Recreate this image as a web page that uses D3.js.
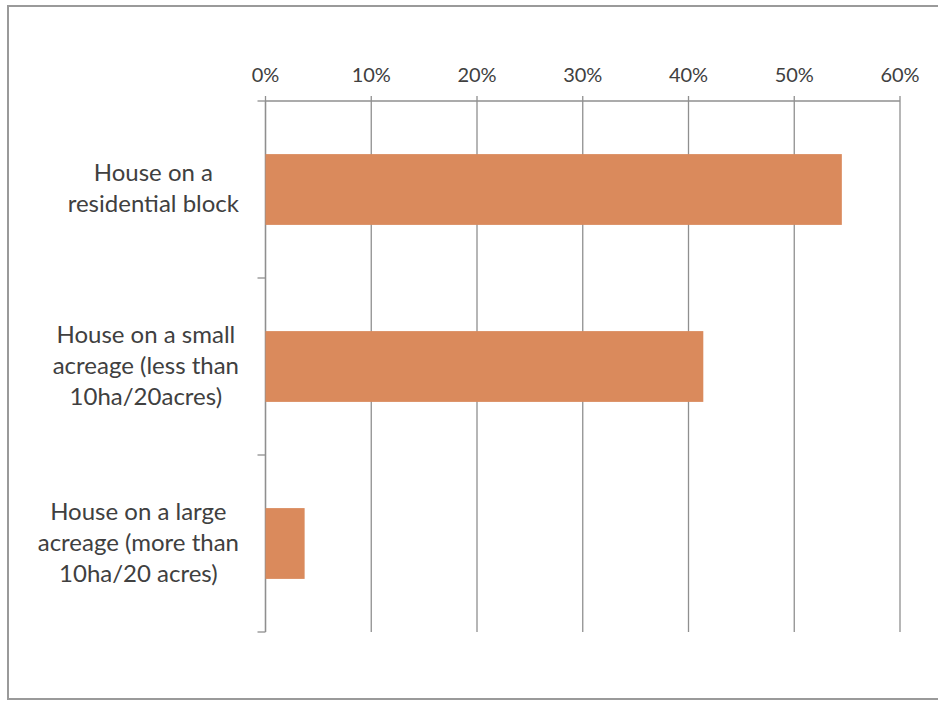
<!DOCTYPE html>
<html><head><meta charset="utf-8">
<script src="https://cdn.jsdelivr.net/npm/d3@7"></script>
<style>
html,body{margin:0;padding:0;background:#fff;}
svg{display:block;}
</style></head>
<body>
<script>
const categories = [
  ["House on a", "residential block"],
  ["House on a small", "acreage (less than", "10ha/20acres)"],
  ["House on a large", "acreage (more than", "10ha/20 acres)"]
];
const values = [0.545, 0.414, 0.037];
const tickValues = [0, 0.1, 0.2, 0.3, 0.4, 0.5, 0.6];

(function () {
const W = 938, H = 701;
const svg = d3.select("body").append("svg").attr("width", W).attr("height", H);

// frame
svg.append("rect").attr("x", 8).attr("y", 6).attr("width", 940).attr("height", 693)
  .attr("fill", "none").attr("stroke", "#9a9a9a").attr("stroke-width", 2);

const pLeft = 265.5, pRight = 900, pTop = 101, pBottom = 632;
const x = d3.scaleLinear().domain([0, 0.6]).range([pLeft, pRight]);
const y = d3.scaleBand().domain(d3.range(categories.length)).range([pTop, pBottom])
  .paddingInner(0.6).paddingOuter(0.3);

const gridColor = "#8f8f8f";
// gridlines
svg.append("g").selectAll("line").data(tickValues).join("line")
  .attr("x1", d => x(d)).attr("x2", d => x(d))
  .attr("y1", pTop - 5).attr("y2", pBottom)
  .attr("stroke", gridColor).attr("stroke-width", 1.3);

// top axis line
svg.append("line").attr("x1", pLeft).attr("x2", pRight).attr("y1", pTop).attr("y2", pTop)
  .attr("stroke", gridColor).attr("stroke-width", 1.3);

// top axis labels
svg.append("g").selectAll("text").data(tickValues).join("text")
  .attr("x", d => x(d)).attr("y", 82)
  .attr("text-anchor", "middle")
  .attr("font-family", "Lato, 'Open Sans', sans-serif").attr("font-size", 20)
  .attr("fill", "#404040")
  .text(d => d3.format(".0%")(d));

// left axis line + ticks at band boundaries
svg.append("line").attr("x1", pLeft).attr("x2", pLeft).attr("y1", pTop).attr("y2", pBottom)
  .attr("stroke", gridColor).attr("stroke-width", 1.3);
const boundaries = d3.range(categories.length + 1).map(i => pTop + i * (pBottom - pTop) / categories.length);
svg.append("g").selectAll("line").data(boundaries).join("line")
  .attr("x1", pLeft - 8).attr("x2", pLeft).attr("y1", d => d).attr("y2", d => d)
  .attr("stroke", gridColor).attr("stroke-width", 1.3);

// bars
svg.append("g").selectAll("rect").data(values).join("rect")
  .attr("x", x(0)).attr("y", (d, i) => y(i))
  .attr("width", d => x(d) - x(0)).attr("height", y.bandwidth())
  .attr("fill", "#da8a5c");

// category labels
const lblG = svg.append("g");
categories.forEach((lines, i) => {
  const cy = y(i) + y.bandwidth() / 2;
  const t = lblG.append("text")
    .attr("font-family", "Lato, 'Open Sans', sans-serif").attr("font-size", 24)
    .attr("fill", "#404040").attr("text-anchor", "middle");
  const n = lines.length;
  const spans = lines.map((ln, j) => t.append("tspan")
    .attr("y", cy + (j - (n - 1) / 2) * 31 + 7).text(ln));
  const maxW = d3.max(spans, s => s.node().getComputedTextLength());
  const cx = 239 - maxW / 2;
  spans.forEach(s => s.attr("x", cx));
});
})();
</script>
</body></html>
